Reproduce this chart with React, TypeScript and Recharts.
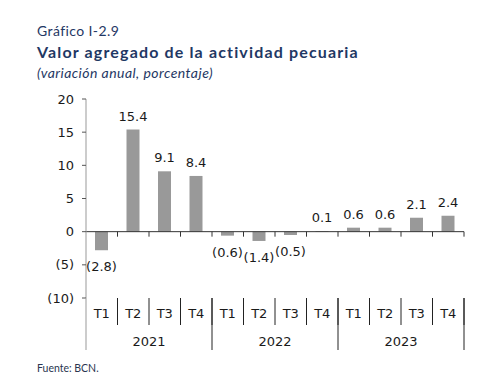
import React from 'react';
import { BarChart, Bar, XAxis, YAxis, ReferenceLine, LabelList } from 'recharts';

// Valor agregado de la actividad pecuaria, variación anual (%)
const years = ['2021', '2022', '2023'];
const quarters = ['T1', 'T2', 'T3', 'T4'];
const values = [-2.8, 15.4, 9.1, 8.4, -0.6, -1.4, -0.5, 0.1, 0.6, 0.6, 2.1, 2.4];
const yTicks = [-10, -5, 0, 5, 10, 15, 20];

const data = values.map((v, i) => ({
  key: `${years[Math.floor(i / 4)]}-${quarters[i % 4]}`,
  value: v,
}));

const W = 488;
const H = 392;
const LEFT = 86;
const RIGHT = 24;
const STEP = (W - LEFT - RIGHT) / values.length;

const NAVY = '#1F3864';
const TEXT = '#1a1a1a';
const FONT = '"DejaVu Sans", Verdana, sans-serif';

const fmt = (v: number) => (v < 0 ? `(${Math.abs(v)})` : `${v}`);

const BarLabel = (p: any) => {
  const { x, y, width, height, value } = p;
  const top = Math.min(y, y + height);
  const bottom = Math.max(y, y + height);
  const neg = value < 0;
  return (
    <text
      x={x + width / 2}
      y={neg ? bottom + 21 : top - 9}
      textAnchor="middle"
      fontSize={13}
      fontFamily={FONT}
      fill={TEXT}
    >
      {neg ? `(${Math.abs(value).toFixed(1)})` : value.toFixed(1)}
    </text>
  );
};

const ZeroLine = (p: any) => {
  const { x1, y1, x2 } = p;
  const step = (x2 - x1) / values.length;
  return (
    <g>
      <line x1={x1} y1={y1} x2={x2} y2={y1} stroke="#333" strokeWidth={1} />
      {values.map((_, i) => (
        <line
          key={i}
          x1={x1 + step * (i + 1)}
          x2={x1 + step * (i + 1)}
          y1={y1}
          y2={y1 + 5}
          stroke="#333"
        />
      ))}
    </g>
  );
};

const QuarterTick = (p: any) => {
  const { x, y, index } = p;
  return (
    <g>
      <text x={x} y={y + 19.5} textAnchor="middle" fontSize={13} fontFamily={FONT} fill={TEXT}>
        {quarters[index % 4]}
      </text>
      <line x1={x + STEP / 2} x2={x + STEP / 2} y1={y} y2={y + 27} stroke="#222" />
    </g>
  );
};

const YearTick = (p: any) => {
  const { x, y, index } = p;
  return (
    <g>
      {index % 4 === 1 && (
        <text x={x + STEP / 2} y={y + 19.5} textAnchor="middle" fontSize={13} fontFamily={FONT} fill={TEXT}>
          {years[Math.floor(index / 4)]}
        </text>
      )}
      {index % 4 === 0 && (
        <line x1={x - STEP / 2} x2={x - STEP / 2} y1={y - 28} y2={y + 24} stroke={index === 0 ? '#999' : '#222'} />
      )}
      {index === values.length - 1 && (
        <line x1={x + STEP / 2} x2={x + STEP / 2} y1={y - 28} y2={y + 24} stroke="#222" />
      )}
    </g>
  );
};

export default function App() {
  return (
    <div style={{ position: 'absolute', left: 0, top: 0, width: W, height: H, background: '#fff' }}>
      <div style={{ position: 'absolute', left: 37, top: 24, fontFamily: 'Lato, sans-serif', fontSize: 14, letterSpacing: 0.4, color: NAVY, lineHeight: '14px' }}>
        Gráfico I-2.9
      </div>
      <div style={{ position: 'absolute', left: 37, top: 44, fontFamily: 'Lato, sans-serif', fontWeight: 700, fontSize: 16, letterSpacing: 1.15, color: NAVY, lineHeight: '16px' }}>
        Valor agregado de la actividad pecuaria
      </div>
      <div style={{ position: 'absolute', left: 37, top: 66, fontFamily: 'Lato, sans-serif', fontStyle: 'italic', fontSize: 14, letterSpacing: 0.45, color: NAVY, lineHeight: '14px' }}>
        (variación anual, porcentaje)
      </div>
      <div style={{ position: 'absolute', left: 37, top: 363, fontFamily: 'Lato, sans-serif', fontSize: 10.5, color: '#2a3550', lineHeight: '11px' }}>
        Fuente: BCN.
      </div>
      <div style={{ position: 'absolute', left: 0, top: 0 }}>
        <BarChart width={W} height={H} data={data} margin={{ top: 99, right: RIGHT, bottom: 42, left: 0 }}>
          <YAxis
            width={LEFT}
            domain={[-10, 20]}
            ticks={yTicks}
            interval={0}
            tickFormatter={fmt}
            tick={{ fontSize: 13, fontFamily: FONT, fill: TEXT }}
            axisLine={{ stroke: '#999' }}
            tickLine={{ stroke: '#555' }}
            tickSize={4}
            tickMargin={8}
          />
          <XAxis
            xAxisId="q"
            dataKey="key"
            interval={0}
            height={28}
            axisLine={false}
            tickLine={false}
            tickSize={0}
            tickMargin={0}
            tick={<QuarterTick />}
          />
          <XAxis
            xAxisId="year"
            dataKey="key"
            interval={0}
            height={24}
            axisLine={false}
            tickLine={false}
            tickSize={0}
            tickMargin={0}
            tick={<YearTick />}
          />
          <ReferenceLine y={0} xAxisId="q" shape={<ZeroLine />} />
          <Bar dataKey="value" xAxisId="q" fill="#999999" barSize={13} isAnimationActive={false}>
            <LabelList dataKey="value" content={<BarLabel />} />
          </Bar>
        </BarChart>
      </div>
    </div>
  );
}
